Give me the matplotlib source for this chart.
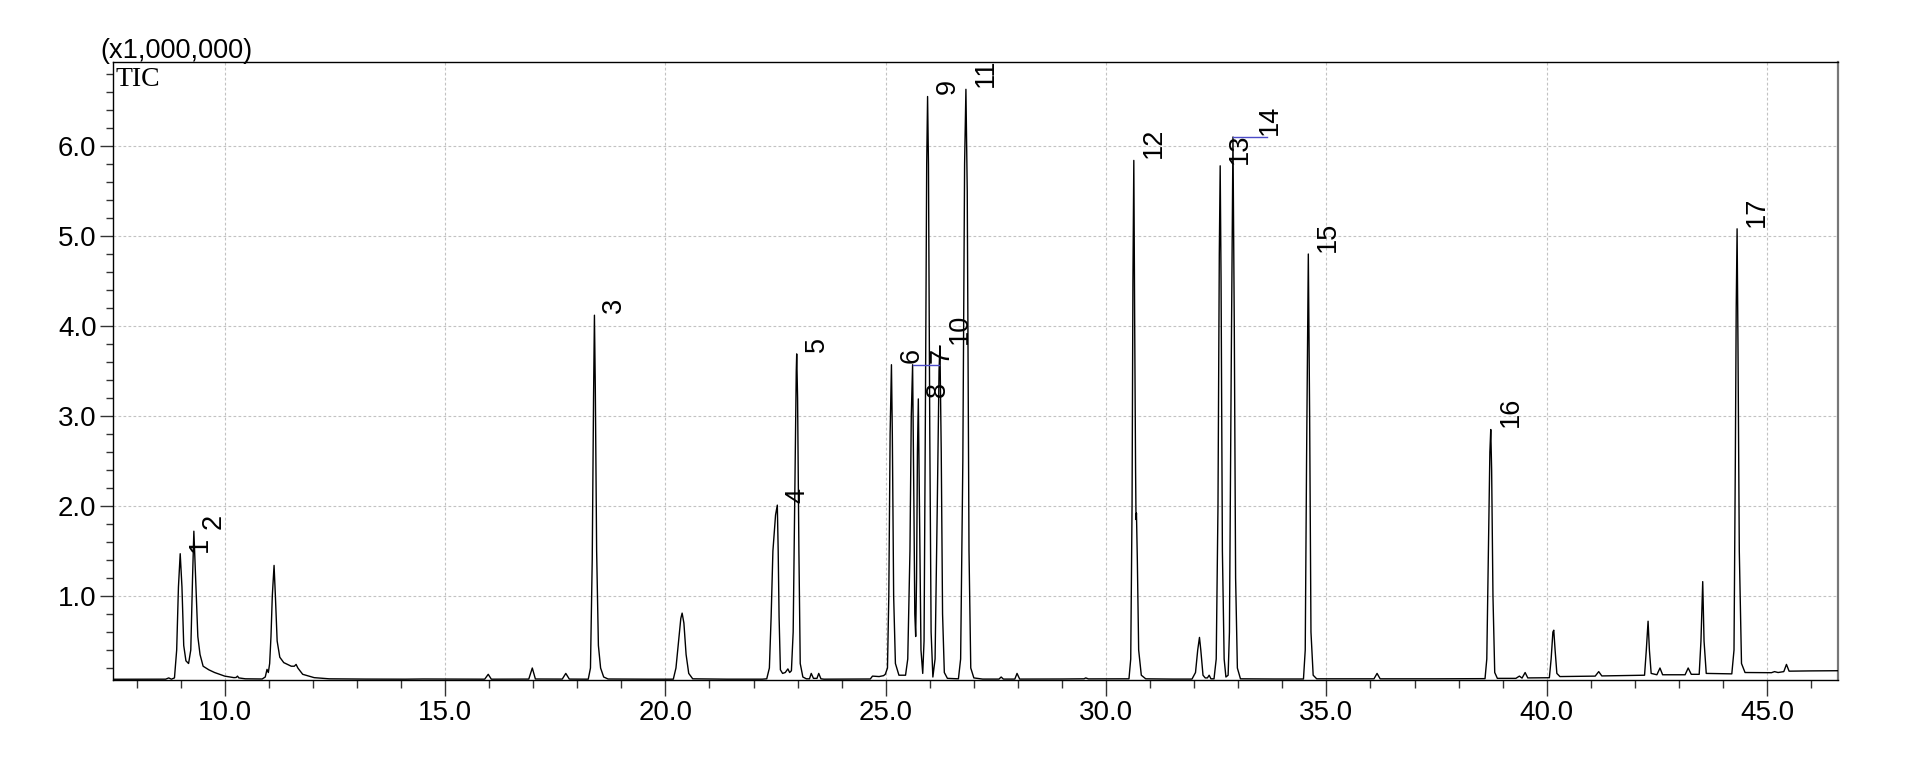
import matplotlib
matplotlib.use('Agg')
import matplotlib.pyplot as plt
from matplotlib.ticker import MultipleLocator, FormatStrFormatter

# TIC trace vertices (retention time in min, intensity x1,000,000)
trace_08_13 = [
    (7.47, 0.075), (8.20, 0.076), (8.66, 0.076), (8.73, 0.09), (8.79, 0.076),
    (8.86, 0.09), (8.91, 0.40), (8.95, 1.10), (8.99, 1.47), (9.03, 1.10),
    (9.07, 0.45), (9.12, 0.28), (9.18, 0.25), (9.23, 0.40), (9.27, 1.20),
    (9.30, 1.72), (9.34, 1.20), (9.39, 0.55), (9.44, 0.35), (9.51, 0.22),
    (9.64, 0.18), (9.77, 0.15), (10.00, 0.11), (10.21, 0.093), (10.26, 0.095),
    (10.29, 0.11), (10.32, 0.09), (10.47, 0.08), (10.85, 0.078), (10.92, 0.10),
    (10.96, 0.185), (10.99, 0.15), (11.02, 0.25), (11.05, 0.55), (11.08, 1.00),
    (11.12, 1.34), (11.15, 1.00), (11.19, 0.50), (11.25, 0.32), (11.34, 0.26),
    (11.51, 0.22), (11.58, 0.22), (11.62, 0.24), (11.66, 0.20), (11.77, 0.13),
    (12.03, 0.093), (12.37, 0.08),
]
trace_13_22 = [
    (13.20, 0.077), (14.10, 0.076), (14.50, 0.078), (15.90, 0.076), (15.98, 0.13),
    (16.05, 0.076), (16.90, 0.077), (16.98, 0.20), (17.05, 0.078), (17.66, 0.077),
    (17.74, 0.14), (17.82, 0.077), (18.25, 0.076), (18.30, 0.20), (18.34, 1.40),
    (18.37, 3.20), (18.39, 4.12), (18.41, 3.30), (18.44, 1.50), (18.48, 0.45),
    (18.53, 0.20), (18.60, 0.10), (18.70, 0.078), (19.60, 0.076), (20.18, 0.076),
    (20.24, 0.20), (20.30, 0.50), (20.35, 0.75), (20.38, 0.81), (20.42, 0.70),
    (20.47, 0.35), (20.53, 0.14), (20.62, 0.08), (21.40, 0.076),
]
trace_22_25 = [
    (22.20, 0.076), (22.30, 0.08), (22.36, 0.20), (22.40, 0.77), (22.44, 1.50),
    (22.50, 1.90), (22.54, 2.01), (22.56, 1.50), (22.58, 0.77), (22.61, 0.18),
    (22.66, 0.14), (22.72, 0.15), (22.78, 0.19), (22.82, 0.15), (22.86, 0.17),
    (22.90, 0.60), (22.94, 2.20), (22.97, 3.50), (22.98, 3.69), (23.00, 3.20),
    (23.03, 1.50), (23.06, 0.25), (23.12, 0.10), (23.20, 0.08), (23.27, 0.08),
    (23.31, 0.14), (23.36, 0.085), (23.44, 0.085), (23.48, 0.14), (23.53, 0.08),
    (23.60, 0.076), (24.20, 0.077), (24.65, 0.078), (24.70, 0.11), (24.85, 0.105),
    (24.95, 0.115), (24.99, 0.13),
]
trace_25_30 = [
    (25.04, 0.20), (25.07, 1.00), (25.10, 2.80), (25.13, 3.57), (25.15, 2.80),
    (25.18, 1.00), (25.22, 0.25), (25.30, 0.12), (25.45, 0.12), (25.50, 0.30),
    (25.55, 1.50), (25.58, 3.00), (25.61, 3.57), (25.64, 2.00), (25.66, 0.80),
    (25.68, 0.55), (25.70, 1.20), (25.72, 2.60), (25.74, 3.19), (25.77, 1.80),
    (25.80, 0.40), (25.84, 0.14), (25.87, 0.50), (25.90, 3.00), (25.93, 5.80),
    (25.95, 6.55), (25.97, 5.80), (26.00, 2.80), (26.03, 0.60), (26.07, 0.10),
    (26.12, 0.30), (26.17, 2.00), (26.21, 3.50), (26.23, 3.78), (26.26, 2.60),
    (26.29, 0.80), (26.33, 0.15), (26.40, 0.085), (26.65, 0.08), (26.70, 0.30),
    (26.75, 2.50), (26.79, 5.80), (26.82, 6.63), (26.85, 5.50), (26.89, 1.50),
    (26.93, 0.20), (27.00, 0.09), (27.20, 0.077), (27.57, 0.077), (27.62, 0.10),
    (27.67, 0.077), (27.93, 0.077), (27.98, 0.14), (28.04, 0.077), (29.00, 0.078),
    (29.50, 0.08), (29.54, 0.09), (29.60, 0.079), (30.45, 0.079),
]
trace_30_35 = [
    (30.52, 0.08), (30.56, 0.30), (30.59, 2.00), (30.61, 4.50), (30.63, 5.84),
    (30.65, 4.00), (30.67, 2.40), (30.68, 1.85), (30.69, 1.92), (30.71, 1.40),
    (30.74, 0.40), (30.80, 0.12), (30.90, 0.08), (31.50, 0.077), (31.95, 0.077),
    (32.03, 0.15), (32.08, 0.40), (32.12, 0.54), (32.15, 0.40), (32.20, 0.12),
    (32.25, 0.09), (32.30, 0.09), (32.34, 0.12), (32.38, 0.08), (32.45, 0.08),
    (32.50, 0.30), (32.54, 2.00), (32.57, 4.80), (32.59, 5.78), (32.61, 4.50),
    (32.64, 1.50), (32.68, 0.30), (32.72, 0.10), (32.77, 0.12), (32.80, 0.60),
    (32.84, 3.50), (32.88, 6.10), (32.91, 4.00), (32.94, 1.20), (32.98, 0.20),
    (33.05, 0.08), (33.80, 0.078), (34.48, 0.078), (34.52, 0.40), (34.55, 2.50),
    (34.59, 4.80), (34.62, 3.00), (34.65, 0.60), (34.70, 0.12), (34.78, 0.08),
]
trace_35_47 = [
    (36.08, 0.08), (36.15, 0.14), (36.22, 0.08), (37.50, 0.08), (38.60, 0.082),
    (38.64, 0.30), (38.68, 1.60), (38.71, 2.60), (38.73, 2.85), (38.75, 2.40),
    (38.78, 1.00), (38.82, 0.15), (38.88, 0.085), (39.30, 0.085), (39.38, 0.11),
    (39.44, 0.088), (39.51, 0.15), (39.57, 0.09), (40.06, 0.092), (40.10, 0.30),
    (40.14, 0.60), (40.16, 0.62), (40.19, 0.40), (40.23, 0.14), (40.30, 0.105),
    (41.10, 0.11), (41.18, 0.16), (41.25, 0.112), (42.22, 0.12), (42.26, 0.40),
    (42.30, 0.72), (42.33, 0.40), (42.37, 0.14), (42.50, 0.125), (42.57, 0.20),
    (42.63, 0.125), (43.14, 0.125), (43.21, 0.20), (43.28, 0.13), (43.46, 0.13),
    (43.50, 0.50), (43.54, 1.16), (43.57, 0.50), (43.62, 0.14), (44.20, 0.135),
    (44.25, 0.40), (44.28, 2.50), (44.30, 4.20), (44.32, 5.08), (44.34, 3.80),
    (44.37, 1.50), (44.42, 0.25), (44.50, 0.15), (45.10, 0.148), (45.17, 0.16),
    (45.25, 0.15), (45.38, 0.16), (45.44, 0.24), (45.50, 0.165), (46.00, 0.168),
    (46.61, 0.17),
]

# numbered peaks
peak_no = [1, 2, 3, 4, 5, 6, 7, 8, 9, 10, 11, 12, 13, 14, 15, 16, 17]
peak_rt = [8.99, 9.30, 18.39, 22.54, 22.98, 25.13, 25.61, 25.74, 25.95, 26.23,
           26.82, 30.63, 32.59, 32.88, 34.59, 38.73, 44.32]
peak_top = [1.47, 1.72, 4.12, 2.01, 3.69, 3.57, 3.57, 3.19, 6.55, 3.78,
            6.63, 5.84, 5.78, 6.10, 4.80, 2.85, 5.08]
# labels moved aside with a leader line: peak number -> label retention time
moved_label_rt = {7: 26.22, 14: 33.66}

x_major = 5.0
x_minor = 1.0
y_major = 1.0
y_minor = 0.2

trace = trace_08_13 + trace_13_22 + trace_22_25 + trace_25_30 + trace_30_35 + trace_35_47
rt_min = [p[0] for p in trace]
tic = [p[1] for p in trace]

fig = plt.figure(figsize=(19.12, 7.75), dpi=100)
ax = fig.add_axes([0.0591, 0.1226, 0.9022, 0.7970])

ax.plot(rt_min, tic, color='black', linewidth=1.0, zorder=3)

ax.set_xlim(7.465, 46.61)
ax.set_ylim(0.067, 6.93)

ax.xaxis.set_major_locator(MultipleLocator(x_major))
ax.xaxis.set_minor_locator(MultipleLocator(x_minor))
ax.yaxis.set_major_locator(MultipleLocator(y_major))
ax.yaxis.set_minor_locator(MultipleLocator(y_minor))
ax.xaxis.set_major_formatter(FormatStrFormatter('%.1f'))
ax.yaxis.set_major_formatter(FormatStrFormatter('%.1f'))

ax.tick_params(axis='x', which='major', direction='out', length=11.5, width=1.0,
               color='#333333', pad=3, labelsize=20, labelfontfamily='Liberation Sans')
ax.tick_params(axis='x', which='minor', direction='out', length=5.8, width=1.0,
               color='#333333')
ax.tick_params(axis='y', which='major', direction='out', length=9.4, width=1.0,
               color='#333333', pad=2.4, labelsize=20, labelfontfamily='Liberation Sans')
ax.tick_params(axis='y', which='minor', direction='out', length=5.0, width=1.0,
               color='#333333')

ax.grid(True, which='major', color='#c2c2c2', linestyle=(0, (2.5, 2)), linewidth=0.8)
ax.set_axisbelow(True)

for side in ['left', 'bottom', 'top']:
    ax.spines[side].set_color('black')
    ax.spines[side].set_linewidth(1.0)
ax.spines['right'].set_color('#777777')
ax.spines['right'].set_linewidth(1.6)

# peak numbers
for no, rt, top in zip(peak_no, peak_rt, peak_top):
    if no in moved_label_rt:
        lx = moved_label_rt[no]
        ax.plot([rt, lx], [top, top], color='#4b4bc8', linewidth=1.0, zorder=4)
        ax.annotate(str(no), xy=(lx, top), xytext=(1.5, 1.5), textcoords='offset points',
                    rotation=90, ha='center', va='bottom', fontsize=19.5,
                    family='Liberation Sans', zorder=5)
    else:
        ax.annotate(str(no), xy=(rt, top), xytext=(5, 1.5), textcoords='offset points',
                    rotation=90, ha='left', va='bottom', fontsize=19.5,
                    family='Liberation Sans', zorder=5)

fig.text(100 / 1912, 1 - 58.5 / 775, '(x1,000,000)', fontsize=19.5,
         family='Liberation Sans', va='baseline', ha='left')
fig.text(115 / 1912, 1 - 86 / 775, 'TIC', fontsize=20,
         family='Liberation Serif', va='baseline', ha='left')

fig.savefig('out.png', dpi=100)
